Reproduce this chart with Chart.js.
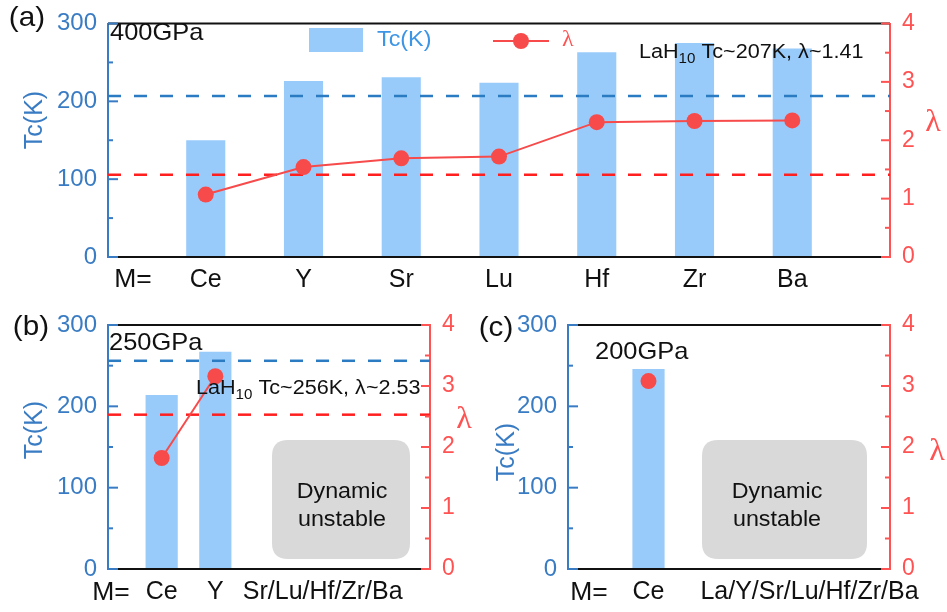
<!DOCTYPE html>
<html>
<head>
  <meta charset="utf-8" />
  <script src="https://cdn.jsdelivr.net/npm/chart.js@4.4.1/dist/chart.umd.min.js"></script>
  <style>
    body{margin:0;background:#fff;}
    #wrap{position:relative;width:947px;height:612px;background:#fff;overflow:hidden;}
    .box{position:absolute;}
  </style>
</head>
<body>
<div id="wrap">
  <div class="box" style="left:0;top:0;width:947px;height:300px"><canvas id="ca"></canvas></div>
  <div class="box" style="left:0;top:300px;width:480px;height:312px"><canvas id="cb"></canvas></div>
  <div class="box" style="left:480px;top:300px;width:467px;height:312px"><canvas id="cc"></canvas></div>
</div>

<script>
// (a) 400 GPa
const labelsA = ['', 'Ce', 'Y', 'Sr', 'Lu', 'Hf', 'Zr', 'Ba', ''];
const tcA     = [null, 150, 226, 231, 224, 263, 275, 268, null];
const lamA    = [null, 1.07, 1.54, 1.69, 1.72, 2.31, 2.33, 2.34, null];
const lahTcA = 207, lahLamA = 1.41;

// (b) 250 GPa
const labelsB = ['', 'Ce', 'Y', '', 'Sr/Lu/Hf/Zr/Ba', '', ''];
const tcB     = [null, 214, 267, null, null, null, null];
const lamB    = [null, 1.82, 3.16, null, null, null, null];
const lahTcB = 256, lahLamB = 2.53;

// (c) 200 GPa
const labelsC = ['', 'Ce', '', 'La/Y/Sr/Lu/Hf/Zr/Ba', ''];
const tcC     = [null, 246, null, null, null];
const lamC    = [null, 3.08, null, null, null];

const tcTicks = [0, 100, 200, 300];
const lamTicks = [0, 1, 2, 3, 4];

const SANS = '"Liberation Sans", Arial, sans-serif';
const SERIF = '"Liberation Serif", "Times New Roman", serif';
const BLUE_AX = '#3a7cc3', BAR = '#99cbfa', LEG_BLUE = '#3d95e6';
const RED_AX = '#ff5252', RED_LINE = '#f74a4a', RED_DASH = '#ff1f1f', BLUE_DASH = '#2b7bc2';

function txt(ctx, s, x, y, size, color, align, fam, sx){
  ctx.save();
  ctx.translate(x, y); ctx.scale(sx || 1.06, 1);
  ctx.font = size + 'px ' + (fam || SANS);
  ctx.fillStyle = color; ctx.textAlign = align || 'left'; ctx.textBaseline = 'middle';
  ctx.fillText(s, 0, 0);
  ctx.restore();
}

function lahText(ctx, x, y, tc, lam){
  const sx = 1.08;
  ctx.save();
  ctx.translate(x, y); ctx.scale(sx, 1);
  ctx.fillStyle = '#111'; ctx.textBaseline = 'middle'; ctx.textAlign = 'left';
  let cx = 0;
  ctx.font = '20px ' + SANS; ctx.fillText('LaH', cx, 0); cx += ctx.measureText('LaH').width;
  ctx.font = '14px ' + SANS; ctx.fillText('10', cx, 7); cx += ctx.measureText('10').width;
  ctx.font = '20px ' + SANS; ctx.fillText(' Tc~' + tc + 'K, λ~' + lam, cx, 0);
  ctx.restore();
}

function rrect(ctx, x, y, w, h, r){
  ctx.beginPath();
  ctx.moveTo(x + r, y); ctx.lineTo(x + w - r, y); ctx.quadraticCurveTo(x + w, y, x + w, y + r);
  ctx.lineTo(x + w, y + h - r); ctx.quadraticCurveTo(x + w, y + h, x + w - r, y + h);
  ctx.lineTo(x + r, y + h); ctx.quadraticCurveTo(x, y + h, x, y + h - r);
  ctx.lineTo(x, y + r); ctx.quadraticCurveTo(x, y, x + r, y);
  ctx.closePath();
}

function decoPlugin(d){
  return {
    id: 'deco',
    afterDatasetDraw(chart, args){
      if (args.index !== 0 || !d.ref) return;
      const {ctx, chartArea: a, scales: {y, y1}} = chart;
      ctx.save(); ctx.lineWidth = 2.5; ctx.setLineDash([13, 13]);
      [[BLUE_DASH, y.getPixelForValue(d.ref.tc)], [RED_DASH, y1.getPixelForValue(d.ref.lam)]].forEach(([c, py]) => {
        ctx.strokeStyle = c; ctx.beginPath(); ctx.moveTo(a.left, py); ctx.lineTo(a.right, py); ctx.stroke();
      });
      ctx.restore();
    },
    afterDraw(chart){
      const {ctx, chartArea: a, scales: {y, y1}} = chart;
      ctx.save();
      // frame top / bottom
      ctx.lineWidth = 2; ctx.strokeStyle = '#111';
      ctx.beginPath(); ctx.moveTo(a.left, a.top); ctx.lineTo(a.right, a.top);
      ctx.moveTo(a.left, a.bottom); ctx.lineTo(a.right, a.bottom); ctx.stroke();
      // inward ticks
      ctx.strokeStyle = BLUE_AX;
      for (let v = 0; v <= 300; v += 50){
        const p = y.getPixelForValue(v), len = v % 100 === 0 ? 10 : 5;
        ctx.beginPath(); ctx.moveTo(a.left, p); ctx.lineTo(a.left + len, p); ctx.stroke();
      }
      ctx.strokeStyle = RED_AX;
      for (let v = 0; v <= 4; v += 0.5){
        const p = y1.getPixelForValue(v), len = v % 1 === 0 ? 9 : 5;
        ctx.beginPath(); ctx.moveTo(a.right, p); ctx.lineTo(a.right - len, p); ctx.stroke();
      }
      ctx.restore();

      // gray box
      if (d.box){
        ctx.save(); ctx.fillStyle = '#d9d9d9';
        rrect(ctx, d.box.x, d.box.y, d.box.w, d.box.h, 16); ctx.fill(); ctx.restore();
        txt(ctx, 'Dynamic', d.box.tx, d.box.y + 52, 22, '#111', 'center');
        txt(ctx, 'unstable', d.box.tx, d.box.y + 80, 22, '#111', 'center');
      }

      txt(ctx, d.panel[0], d.panel[1], d.panel[2], 28, '#111', 'center');
      txt(ctx, 'M=', d.meq[0], d.meq[1], 25, '#111', 'center');
      txt(ctx, d.press[0], d.press[1], d.press[2], 24, '#111', 'left');
      txt(ctx, 'λ', d.lt[0], d.lt[1], 32, RED_AX, 'center', SERIF, 1);

      ctx.save();
      ctx.translate(d.yt[0], d.yt[1]); ctx.rotate(-Math.PI / 2);
      ctx.font = '25px ' + SANS; ctx.fillStyle = BLUE_AX; ctx.textAlign = 'center'; ctx.textBaseline = 'middle';
      ctx.fillText('Tc(K)', 0, 0);
      ctx.restore();

      if (d.lah) lahText(ctx, d.lah[0], d.lah[1], d.ref.tc, d.ref.lam);

      if (d.legend){
        ctx.save();
        ctx.fillStyle = BAR; ctx.fillRect(309, 28, 54, 24);
        ctx.strokeStyle = RED_LINE; ctx.lineWidth = 2;
        ctx.beginPath(); ctx.moveTo(493, 41); ctx.lineTo(549, 41); ctx.stroke();
        ctx.fillStyle = RED_LINE; ctx.beginPath(); ctx.arc(521, 41, 8, 0, Math.PI * 2); ctx.fill();
        ctx.restore();
        txt(ctx, 'Tc(K)', 377, 40, 22, LEG_BLUE, 'left');
        txt(ctx, 'λ', 562, 40, 24, RED_AX, 'left', SERIF, 1);
      }
    }
  };
}

function makeChart(id, labels, tc, lam, o){
  return new Chart(document.getElementById(id), {
    type: 'bar',
    data: {
      labels: labels,
      datasets: [
        { type: 'bar', data: tc, backgroundColor: BAR, borderWidth: 0,
          barPercentage: o.barPct, categoryPercentage: 1, yAxisID: 'y', order: 1 },
        { type: 'line', data: lam, borderColor: RED_LINE, borderWidth: 2,
          pointRadius: 8, pointBackgroundColor: RED_LINE, pointBorderWidth: 0,
          yAxisID: 'y1', order: 0 }
      ]
    },
    options: {
      responsive: true, maintainAspectRatio: false, animation: false,
      layout: { padding: { top: o.top, left: 0, right: 0, bottom: 0 } },
      plugins: { legend: { display: false }, tooltip: { enabled: false } },
      scales: {
        x: {
          offset: false,
          grid: { display: false, drawTicks: false }, border: { display: false },
          ticks: { color: '#111', font: { family: SANS, size: 25 }, padding: 8, autoSkip: false, maxRotation: 0, minRotation: 0 },
          afterFit: s => { s.height = o.xh; }
        },
        y: {
          position: 'left', min: 0, max: 300,
          afterBuildTicks: s => { s.ticks = tcTicks.map(v => ({ value: v })); },
          grid: { display: false, drawTicks: false }, border: { color: BLUE_AX, width: 2 },
          ticks: { color: BLUE_AX, font: { family: SANS, size: 24, lineHeight: 1 }, padding: 11 },
          afterFit: s => { s.width = o.lw; }
        },
        y1: {
          position: 'right', min: 0, max: 4,
          afterBuildTicks: s => { s.ticks = lamTicks.map(v => ({ value: v })); },
          grid: { display: false, drawTicks: false }, border: { color: RED_AX, width: 2 },
          ticks: { color: RED_AX, font: { family: SANS, size: 23, lineHeight: 1 }, padding: 12 },
          afterFit: s => { s.width = o.rw; }
        }
      }
    },
    plugins: [decoPlugin(o.deco)]
  });
}

makeChart('ca', labelsA, tcA, lamA, {
  barPct: 0.4, top: 13, xh: 43, lw: 108, rw: 57,
  deco: {
    ref: { tc: lahTcA, lam: lahLamA }, lah: [639, 52], legend: true,
    panel: ['(a)', 27, 18], meq: [133, 280], press: ['400GPa', 110, 33],
    yt: [35, 120], lt: [933, 123]
  }
});

makeChart('cb', labelsB, tcB, lamB, {
  barPct: 0.6, top: 25, xh: 43, lw: 108, rw: 50,
  deco: {
    ref: { tc: lahTcB, lam: lahLamB }, lah: [196, 88],
    box: { x: 272, y: 140, w: 138, h: 119, tx: 342 },
    panel: ['(b)', 31, 27], meq: [111, 293], press: ['250GPa', 109, 43],
    yt: [35, 130], lt: [464, 120]
  }
});

makeChart('cc', labelsC, tcC, lamC, {
  barPct: 0.4, top: 25, xh: 43, lw: 88, rw: 57,
  deco: {
    box: { x: 222, y: 140, w: 165, h: 119, tx: 297 },
    panel: ['(c)', 16, 28], meq: [109, 293], press: ['200GPa', 115, 52],
    yt: [27, 152], lt: [457, 152]
  }
});
</script>
</body>
</html>
